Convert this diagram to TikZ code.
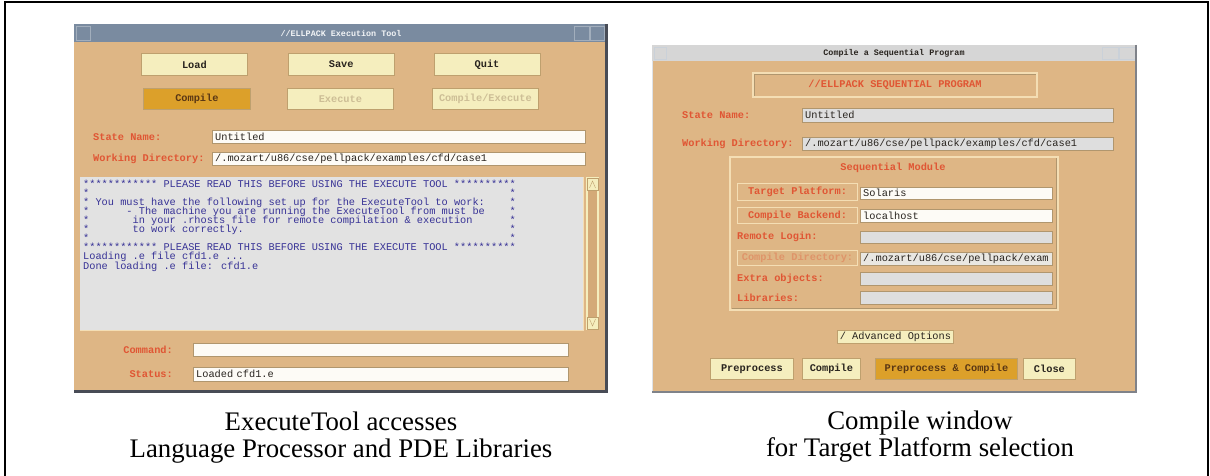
\documentclass[tikz,border=0pt]{standalone}
\usepackage{fontspec}
\setmainfont{Liberation Serif}
\newfontfamily\monofam{Liberation Mono}
\usetikzlibrary{positioning}

\definecolor{tan}{RGB}{222,182,133}
\definecolor{slate}{RGB}{122,139,160}
\definecolor{titlegrey}{RGB}{214,214,214}
\definecolor{rim}{RGB}{72,76,86}
\definecolor{pale}{RGB}{245,238,190}
\definecolor{gold}{RGB}{220,160,42}
\definecolor{btnrim}{RGB}{190,160,110}
\definecolor{rimlight}{RGB}{244,222,180}
\definecolor{ink}{RGB}{40,35,30}
\definecolor{brownink}{RGB}{90,55,20}
\definecolor{dimink}{RGB}{205,190,150}
\definecolor{redlbl}{RGB}{224,86,52}
\definecolor{areaink}{RGB}{55,50,150}
\definecolor{areagrey}{RGB}{226,226,226}
\definecolor{fieldgrey}{RGB}{222,222,222}
\definecolor{paper}{RGB}{253,251,246}
\definecolor{fieldrim}{RGB}{176,150,110}
\definecolor{trough}{RGB}{212,170,120}

\newcommand\guitext{\monofam\fontsize{10.3}{9.1}\selectfont\lineskiplimit=-20pt\relax}
\newcommand\titletext{\monofam\fontsize{8.4}{9}\selectfont}
\newcommand\captext{\fontsize{26.8}{26.3}\selectfont\lineskiplimit=-20pt\relax}
\newcommand\blanks[1]{\hspace*{#1\dimexpr.6em\relax}}

\begin{document}
\begin{tikzpicture}[x=1pt, y=-1pt,
  gui/.style={font=\guitext, inner sep=0pt, anchor=north west},
  btn/.style={gui, draw=btnrim, fill=pale, text=ink, font=\guitext\bfseries, line width=0.8pt},
  hotbtn/.style={btn, fill=gold, text=brownink},
  dimbtn/.style={btn, text=dimink},
  tabbtn/.style={gui, draw=rimlight, fill=tan, text=redlbl, font=\guitext\bfseries, line width=1pt},
  field/.style={gui, draw=fieldrim, fill=paper, text=ink, text width=#1, align=left,
    inner xsep=3pt, minimum height=13pt},
  greyfield/.style={field=#1, fill=fieldgrey},
  lbl/.style={font=\guitext\bfseries, text=redlbl, inner sep=0pt, anchor=west},
  etch/.style={draw=rimlight, line width=1.2pt},
  caption/.style={font=\captext, align=center, anchor=base}
]
\useasboundingbox (0,0) rectangle (1210,476);

% outer frame, open at the bottom
\draw[line width=2pt] (5,476) -- (5,2) -- (1208,2) -- (1208,476);

% ExecuteTool window
\fill[tan] (74,24) rectangle (608,393);
\fill[slate] (74,24) rectangle (608,42);
\draw[slate!70!white] (76,26) rectangle (90,40) (574,26) rectangle (589,40) (590,26) rectangle (604,40);
\draw[rim, line width=3pt] (606.5,24) -- (606.5,391.5) -- (74,391.5);
\node[font=\titletext\bfseries, text=white!90!slate] (lttl) at (341,33) {//ELLPACK Execution Tool};

\node[btn, minimum width=106pt, minimum height=22pt] (load) at (141,53) {Load};
\node[btn, minimum width=106pt, minimum height=22pt, right=40pt of load] (save) {Save};
\node[btn, minimum width=106pt, minimum height=22pt, right=39pt of save] (quit) {Quit};
\node[hotbtn, minimum width=107pt, minimum height=21pt] (compile) at (143,88) {Compile};
\node[dimbtn, minimum width=106pt, minimum height=21pt] (execute) at (287,88) {Execute};
\node[dimbtn, minimum width=106pt, minimum height=21pt] (compexec) at (432,88) {Compile/Execute};

\node[lbl] (sname) at (93,137) {State Name:};
\node[field=367pt] (snamef) at (212,130) {Untitled};
\node[lbl] (wdir) at (93,159) {Working Directory:};
\node[field=367pt] (wdirf) at (212,152) {/.mozart/u86/cse/pellpack/examples/cfd/case1};

% log area + scrollbar
\fill[areagrey] (80,177) rectangle (583,330);
\draw[rimlight] (80,330) -- (583,330) -- (583,177);
\node[gui, text=areaink, align=left] (log) at (83,179.5) {%
************ PLEASE READ THIS BEFORE USING THE EXECUTE TOOL **********\\
*\blanks{68}*\\
* You must have the following set up for the ExecuteTool to work:\blanks{4}*\\
*\blanks{6}- The machine you are running the ExecuteTool from must be\blanks{4}*\\
*\blanks{7}in your .rhosts file for remote compilation \& execution\blanks{6}*\\
*\blanks{7}to work correctly.\blanks{43}*\\
*\blanks{68}*\\
************ PLEASE READ THIS BEFORE USING THE EXECUTE TOOL **********\\
Loading .e file cfd1.e ...\\
Done loading .e file: cfd1.e};
\draw[draw=pale, fill=trough, line width=1.5pt] (587,178) rectangle (598,329);
\draw[draw=btnrim, fill=pale] (587,178) rectangle (598,190) (587,317) rectangle (598,329);
\draw[btnrim] (589.5,188) -- (592.5,181) -- (595.5,188) (589.5,319) -- (592.5,326) -- (595.5,319);

\node[lbl, anchor=east] (cmd) at (173,350) {Command:};
\node[field=369pt] (cmdf) at (193,343) {};
\node[lbl, anchor=east] (stat) at (173,374) {Status:};
\node[field=369pt, minimum height=14pt] (statf) at (193,367) {Loaded cfd1.e};

% Compile window
\fill[tan] (652,45) rectangle (1137,393);
\fill[titlegrey] (652,45) rectangle (1137,61);
\draw[white!60!slate] (654,47) rectangle (666,59) (1102,47) rectangle (1118,59) (1119,47) rectangle (1135,59);
\draw[rim!70!white, line width=2.5pt] (1136,45) -- (1136,392) -- (652,392);
\draw[white!75!slate] (652.5,61) -- (652.5,391);
\node[font=\titletext\bfseries, text=ink] (rttl) at (894,53) {Compile a Sequential Program};

\draw[etch] (753,73) rectangle (1037,97);
\draw[fieldrim] (754,74) -- (754,96) (754,74) -- (1036,74);
\node[font=\guitext\bfseries, text=redlbl, inner sep=0pt] (banner) at (895,85) {//ELLPACK SEQUENTIAL PROGRAM};

\node[lbl] (csname) at (682,115) {State Name:};
\node[greyfield=305pt, minimum height=14pt] (csnamef) at (802,108) {Untitled};
\node[lbl] (cwdir) at (682,144) {Working Directory:};
\node[greyfield=305pt] (cwdirf) at (802,137) {/.mozart/u86/cse/pellpack/examples/cfd/case1};

% module frame
\draw[etch] (730,157) rectangle (1058,310);
\draw[fieldrim] (731.5,308.5) -- (1056.5,308.5) -- (1056.5,158.5);
\node[font=\guitext\bfseries, text=redlbl, inner sep=0pt] (modttl) at (893,168) {Sequential Module};

\node[tabbtn, minimum width=120pt, minimum height=17pt] (tplat) at (737,183) {Target Platform:};
\node[field=186pt, minimum height=12pt] (tplatf) at (860,187) {Solaris};
\node[tabbtn, minimum width=120pt, minimum height=16pt] (cback) at (737,207) {Compile Backend:};
\node[field=186pt] (cbackf) at (860,209) {localhost};
\node[lbl] (rlog) at (737,237) {Remote Login:};
\node[greyfield=186pt, minimum height=12pt] (rlogf) at (860,231) {};
\node[tabbtn, minimum width=120pt, minimum height=15pt, text=redlbl!35!tan] (cdir) at (737,250) {Compile Directory:};
\node[field=186pt, fill=paper!92!black] (cdirf) at (860,252) {/.mozart/u86/cse/pellpack/exam};
\node[lbl] (xobj) at (737,279) {Extra objects:};
\node[greyfield=186pt] (xobjf) at (860,272) {};
\node[lbl] (libs) at (737,298) {Libraries:};
\node[greyfield=186pt] (libsf) at (860,291) {};

\node[btn, minimum width=116pt, minimum height=13pt, font=\guitext] (adv) at (837,330) {/ Advanced Options};

\node[btn, minimum width=83pt, minimum height=21pt] (prep) at (710,358) {Preprocess};
\node[btn, minimum width=58pt, minimum height=21pt] (comp) at (802,358) {Compile};
\node[hotbtn, minimum width=142pt, minimum height=21pt] (prepcomp) at (875,358) {Preprocess \& Compile};
\node[btn, minimum width=52pt, minimum height=21pt] (close) at (1023,358) {Close};

% captions (base = last line)
\node[caption] (capl) at (341,457) {ExecuteTool accesses\\Language Processor and PDE Libraries};
\node[caption] (capr) at (920,456) {Compile window\\for Target Platform selection};

\end{tikzpicture}
\end{document}
